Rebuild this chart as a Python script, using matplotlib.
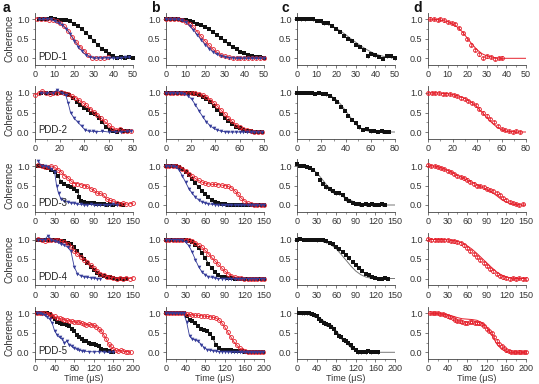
import numpy as np
import matplotlib.pyplot as plt
from matplotlib.ticker import MultipleLocator

plt.rcParams['font.family'] = ['Liberation Sans', 'DejaVu Sans']

# ---- row 1 (PDD-1), 0-50 us ----
a1_kt = [2, 4, 6, 8, 10, 12, 14, 16, 18, 20, 22, 24, 26, 28, 30, 32, 34, 36, 38, 40, 42, 44, 46, 48, 50]
a1_ky = [1.0, 1.0, 1.02, 1.03, 1.0, 0.98, 0.98, 0.97, 0.95, 0.88, 0.82, 0.75, 0.65, 0.55, 0.45, 0.35, 0.25, 0.18, 0.1, 0.05, 0.02, 0.03, 0.02, 0.03, 0.0]
a1_rt = [1, 3, 5, 7, 9, 11, 13, 15, 17, 19, 21, 23, 25, 27, 29, 31, 33, 35, 37]
a1_ry = [1.02, 1.0, 1.0, 0.98, 0.97, 0.95, 0.9, 0.82, 0.7, 0.55, 0.42, 0.3, 0.2, 0.08, 0.02, 0.0, 0.02, 0.0, 0.03]
a1_bt = [2, 4, 6, 8, 10, 12, 14, 16, 18, 20, 22, 24, 26, 28, 30, 32, 34, 36, 38, 40, 42, 44, 46, 48]
a1_by = [1.0, 1.0, 1.02, 1.0, 0.95, 0.9, 0.85, 0.75, 0.62, 0.45, 0.3, 0.18, 0.08, 0.03, 0.0, 0.01, 0.0, 0.02, 0.0, 0.01, 0.0, 0.02, 0.03, 0.03]

b1_t = np.arange(0, 51, 2)
b1_k = [1, 1, 1, 1, 0.99, 0.97, 0.95, 0.92, 0.89, 0.85, 0.8, 0.74, 0.67, 0.6, 0.52, 0.44, 0.36, 0.29, 0.23, 0.17, 0.13, 0.09, 0.06, 0.04, 0.03, 0.02]
b1_r = [1, 1, 1, 1, 0.98, 0.94, 0.88, 0.79, 0.68, 0.56, 0.44, 0.33, 0.23, 0.15, 0.09, 0.05, 0.03, 0.02, 0.01, 0, 0, 0, 0, 0, 0, 0]
b1_b = [1, 1, 1, 1, 0.97, 0.92, 0.84, 0.73, 0.6, 0.47, 0.35, 0.25, 0.16, 0.1, 0.06, 0.03, 0.02, 0.01, 0, 0, 0, 0, 0, 0, 0, 0]

c1_t = np.arange(0, 51, 2)
c1_k = [1.0, 1.0, 1.0, 1.02, 1.0, 0.96, 0.95, 0.9, 0.9, 0.83, 0.75, 0.68, 0.57, 0.5, 0.45, 0.35, 0.3, 0.22, 0.05, 0.12, 0.08, 0.03, -0.02, 0.05, 0.05, 0.0]
c1_ft = np.arange(0, 50.1, 2.5)
c1_f = [1.0, 1.0, 0.99, 0.98, 0.96, 0.93, 0.89, 0.84, 0.77, 0.69, 0.6, 0.5, 0.41, 0.32, 0.24, 0.17, 0.11, 0.07, 0.04, 0.02, 0.01]

d1_t = [1, 3, 5, 6, 8, 10, 12, 14, 16, 18, 20, 22, 24, 26, 28, 30, 32, 34, 36, 38]
d1_r = [1.02, 1.0, 0.98, 1.0, 0.97, 0.93, 0.9, 0.87, 0.78, 0.65, 0.5, 0.35, 0.22, 0.1, 0.0, 0.05, 0.03, -0.02, 0.0, 0.02]
d1_ft = np.arange(0, 50.1, 2.5)
d1_f = [1.0, 1.0, 0.99, 0.97, 0.94, 0.88, 0.8, 0.68, 0.52, 0.36, 0.22, 0.12, 0.06, 0.03, 0.01, 0, 0, 0, 0, 0, 0]

# ---- row 2 (PDD-2), 0-80 us ----
a2_kt = [5, 9, 13, 17, 21, 25, 28, 31, 34, 37, 40, 43, 46, 49, 52, 55, 58, 61, 64, 67, 70, 73, 76]
a2_ky = [1.0, 1.0, 1.0, 1.0, 1.0, 0.98, 0.95, 0.88, 0.78, 0.7, 0.62, 0.57, 0.5, 0.45, 0.35, 0.25, 0.12, 0.05, 0.02, 0.0, 0.05, 0.02, 0.02]
a2_rt = [0, 3, 6, 9, 12, 15, 18, 21, 24, 27, 30, 33, 36, 39, 42, 45, 48, 51, 54, 57, 60, 63, 66, 69, 72, 75, 78]
a2_ry = [0.95, 1.0, 1.05, 1.0, 0.98, 1.0, 1.0, 1.02, 1.0, 0.97, 0.92, 0.88, 0.82, 0.75, 0.68, 0.6, 0.52, 0.44, 0.35, 0.27, 0.18, 0.1, 0.05, 0.07, 0.03, 0.03, 0.02]
a2_bt = [5, 10, 15, 18, 22, 25, 27, 29, 32, 35, 38, 41, 44, 47, 50, 55, 60, 65, 70, 75, 78]
a2_by = [1.0, 1.0, 1.0, 1.08, 1.0, 0.95, 0.75, 0.5, 0.35, 0.25, 0.15, 0.05, 0.02, 0.02, 0.01, 0.02, 0.0, 0.01, 0.0, 0.02, 0.02]

b2_t = np.arange(0, 79, 3)
b2_k = [1, 1, 1, 1, 1, 1, 1, 1, 0.98, 0.95, 0.9, 0.84, 0.76, 0.67, 0.57, 0.47, 0.37, 0.28, 0.2, 0.14, 0.09, 0.05, 0.03, 0.02, 0.01, 0, 0]
b2_r = [1, 1, 1, 1, 1, 1, 1, 1, 1, 0.98, 0.95, 0.9, 0.83, 0.75, 0.66, 0.56, 0.46, 0.36, 0.27, 0.19, 0.12, 0.07, 0.04, 0.02, 0.01, 0, 0]
b2_b = [1, 1, 1, 1, 1, 0.98, 0.93, 0.84, 0.7, 0.54, 0.39, 0.26, 0.16, 0.09, 0.05, 0.02, 0.01, 0, 0, 0, 0, 0, 0, 0, 0, 0, 0]

c2_t = np.arange(0, 76, 3)
c2_k = [1.0, 1.0, 1.0, 1.0, 1.0, 0.98, 1.0, 0.98, 0.97, 0.93, 0.85, 0.78, 0.65, 0.55, 0.42, 0.32, 0.22, 0.12, 0.05, 0.08, 0.02, 0.03, 0.0, 0.02, 0.0, 0.01]
c2_ft = np.arange(0, 80.1, 4)
c2_f = [1, 1, 1, 1, 1, 0.99, 0.97, 0.92, 0.83, 0.7, 0.53, 0.36, 0.21, 0.1, 0.04, 0.01, 0, 0, 0, 0, 0]

d2_t = np.arange(0, 76, 3)
d2_r = [1.0, 1.0, 1.0, 1.0, 0.98, 0.98, 0.97, 0.95, 0.92, 0.88, 0.85, 0.8, 0.75, 0.68, 0.6, 0.5, 0.42, 0.33, 0.25, 0.15, 0.08, 0.05, 0.02, 0.0, 0.02, 0.0]
d2_ft = np.arange(0, 80.1, 4)
d2_f = [1, 1, 1, 0.99, 0.98, 0.96, 0.93, 0.89, 0.83, 0.75, 0.64, 0.51, 0.37, 0.24, 0.13, 0.06, 0.02, 0.01, 0, 0, 0]

# ---- row 3 (PDD-3), 0-150 us ----
a3_kt = [5, 10, 15, 20, 25, 30, 35, 40, 45, 50, 55, 60, 65, 68, 70, 75, 80, 85, 90, 95, 100, 105, 110, 115, 120, 125, 130, 135]
a3_ky = [1.0, 1.0, 0.98, 0.95, 0.9, 0.85, 0.75, 0.6, 0.55, 0.5, 0.45, 0.4, 0.35, 0.2, 0.1, 0.07, 0.05, 0.06, 0.05, 0.03, 0.02, 0.03, 0.0, 0.02, 0.0, 0.02, 0.02, 0.01]
a3_rt = [5, 10, 15, 20, 25, 30, 35, 40, 45, 50, 55, 60, 65, 70, 75, 80, 85, 90, 95, 100, 105, 110, 115, 120, 125, 130, 135, 140, 145, 150]
a3_ry = [1.02, 1.0, 0.97, 0.98, 1.0, 0.97, 0.9, 0.85, 0.75, 0.7, 0.62, 0.55, 0.55, 0.52, 0.5, 0.48, 0.42, 0.38, 0.3, 0.3, 0.25, 0.15, 0.12, 0.1, 0.05, 0.02, 0.05, 0.02, 0.03, 0.05]
a3_bt = [5, 10, 15, 20, 25, 30, 33, 36, 40, 45, 50, 55, 60, 65, 70, 75, 80, 85, 90, 95, 100, 105, 110, 115, 120, 125]
a3_by = [1.12, 1.0, 1.0, 0.97, 0.92, 0.85, 0.5, 0.3, 0.15, 0.1, 0.08, 0.05, 0.05, 0.02, 0.02, 0.0, 0.0, 0.02, 0.0, 0.01, 0.0, 0.01, 0.0, 0.01, 0.02, 0.0]

b3_t = np.arange(0, 151, 5)
b3_k = [1, 1, 1, 1, 0.98, 0.92, 0.85, 0.76, 0.66, 0.56, 0.46, 0.37, 0.28, 0.2, 0.13, 0.08, 0.05, 0.03, 0.02, 0.01, 0, 0, 0, 0, 0, 0, 0, 0, 0, 0, 0]
b3_r = [1, 1, 1, 1, 0.98, 0.93, 0.87, 0.8, 0.74, 0.68, 0.63, 0.59, 0.56, 0.54, 0.53, 0.53, 0.52, 0.51, 0.5, 0.48, 0.44, 0.37, 0.28, 0.18, 0.1, 0.05, 0.02, 0.01, 0, 0, 0]
b3_b = [1, 1, 1, 0.98, 0.9, 0.75, 0.58, 0.42, 0.3, 0.2, 0.13, 0.08, 0.05, 0.03, 0.02, 0.01, 0, 0, 0, 0, 0, 0, 0, 0, 0, 0, 0, 0, 0, 0, 0]

c3_t = np.arange(0, 136, 5)
c3_k = [1.05, 1.0, 1.0, 0.98, 0.95, 0.9, 0.8, 0.65, 0.55, 0.45, 0.4, 0.35, 0.3, 0.3, 0.25, 0.15, 0.1, 0.05, 0.03, 0.02, 0.0, 0.02, 0.0, 0.02, 0.0, 0.01, 0.02, 0.0]
c3_ft = np.arange(0, 150.1, 7.5)
c3_f = [1, 1, 0.98, 0.93, 0.83, 0.68, 0.52, 0.4, 0.32, 0.26, 0.19, 0.12, 0.06, 0.03, 0.01, 0, 0, 0, 0, 0, 0]

d3_t = np.arange(0, 146, 5)
d3_r = [1.02, 1.0, 1.0, 0.98, 0.95, 0.92, 0.88, 0.85, 0.8, 0.75, 0.72, 0.68, 0.65, 0.6, 0.55, 0.5, 0.48, 0.45, 0.42, 0.38, 0.35, 0.3, 0.25, 0.18, 0.12, 0.08, 0.05, 0.02, 0.0, 0.02]
d3_ft = np.arange(0, 150.1, 7.5)
d3_f = [1, 1, 0.98, 0.94, 0.89, 0.83, 0.76, 0.7, 0.64, 0.58, 0.52, 0.46, 0.4, 0.33, 0.24, 0.14, 0.07, 0.03, 0.01, 0, 0]

# ---- row 4 (PDD-4), 0-150 us ----
a4_kt = [5, 10, 15, 20, 25, 30, 35, 40, 45, 50, 55, 60, 65, 70, 75, 80, 85, 90, 95, 100, 105, 110, 115, 120, 125, 130, 135, 140]
a4_ky = [1.0, 1.0, 1.0, 1.0, 1.0, 1.0, 0.98, 0.97, 0.95, 0.92, 0.88, 0.8, 0.7, 0.6, 0.5, 0.4, 0.3, 0.22, 0.15, 0.1, 0.07, 0.05, 0.03, 0.02, 0.0, -0.02, 0.0, 0.0]
a4_rt = [5, 10, 15, 20, 25, 30, 35, 40, 45, 50, 55, 60, 65, 70, 75, 80, 85, 90, 95, 100, 105, 110, 115, 120, 125, 130, 135, 140, 145, 150]
a4_ry = [1.02, 0.98, 0.97, 1.0, 1.0, 0.98, 1.0, 0.95, 0.93, 0.88, 0.8, 0.7, 0.62, 0.55, 0.48, 0.42, 0.35, 0.28, 0.2, 0.12, 0.08, 0.05, 0.03, 0.02, 0.0, 0.02, 0.0, 0.02, 0.0, 0.02]
a4_bt = [5, 10, 15, 20, 25, 30, 35, 40, 45, 50, 55, 60, 65, 70, 75, 80, 85, 90, 95, 100]
a4_by = [1.0, 1.0, 1.0, 1.1, 1.0, 0.95, 0.93, 0.88, 0.85, 0.8, 0.7, 0.3, 0.12, 0.07, 0.05, 0.03, 0.02, 0.01, 0.0, 0.0]

b4_t = np.arange(0, 151, 5)
b4_k = [1, 1, 1, 1, 1, 1, 0.99, 0.97, 0.93, 0.87, 0.78, 0.66, 0.52, 0.38, 0.26, 0.16, 0.09, 0.05, 0.03, 0.02, 0.01, 0, 0, 0, 0, 0, 0, 0, 0, 0, 0]
b4_r = [1, 1, 1, 1, 1, 1, 1, 0.98, 0.96, 0.92, 0.87, 0.8, 0.72, 0.63, 0.54, 0.45, 0.36, 0.27, 0.19, 0.12, 0.07, 0.04, 0.02, 0.01, 0, 0, 0, 0, 0, 0, 0]
b4_b = [1, 1, 1, 1, 1, 0.98, 0.93, 0.84, 0.68, 0.48, 0.3, 0.17, 0.09, 0.05, 0.03, 0.01, 0, 0, 0, 0, 0, 0, 0, 0, 0, 0, 0, 0, 0, 0, 0]

c4_t = np.arange(0, 141, 5)
c4_k = [1.0, 1.02, 1.0, 1.0, 1.0, 1.0, 0.98, 1.0, 0.98, 0.95, 0.92, 0.88, 0.82, 0.75, 0.68, 0.6, 0.52, 0.42, 0.35, 0.28, 0.2, 0.12, 0.08, 0.05, 0.02, 0.0, 0.0, 0.02, 0.0]
c4_ft = np.arange(0, 150.1, 7.5)
c4_f = [1, 1, 1, 1, 0.99, 0.97, 0.93, 0.86, 0.76, 0.62, 0.47, 0.32, 0.19, 0.1, 0.04, 0.01, 0, 0, 0, 0, 0]

d4_t = np.arange(0, 151, 5)
d4_r = [1.02, 1.0, 1.0, 1.0, 1.0, 0.98, 0.98, 0.97, 0.95, 0.93, 0.9, 0.85, 0.78, 0.7, 0.62, 0.55, 0.47, 0.4, 0.32, 0.25, 0.18, 0.12, 0.07, 0.03, 0.02, 0.0, 0.02, 0.0, 0.01, 0.0, 0.0]
d4_ft = np.arange(0, 150.1, 7.5)
d4_f = [1, 1, 1, 1, 0.99, 0.98, 0.95, 0.91, 0.84, 0.75, 0.64, 0.52, 0.4, 0.28, 0.17, 0.09, 0.04, 0.01, 0, 0, 0]

# ---- row 5 (PDD-5), 0-200 us ----
a5_kt = [5, 10, 15, 20, 25, 30, 35, 40, 45, 50, 55, 60, 65, 70, 75, 80, 85, 90, 95, 100, 105, 110, 115, 120, 125, 130, 135, 140, 145, 150, 155, 160]
a5_ky = [1.0, 1.0, 1.0, 1.0, 1.0, 0.98, 0.9, 0.85, 0.78, 0.75, 0.72, 0.72, 0.7, 0.68, 0.6, 0.55, 0.45, 0.4, 0.35, 0.3, 0.28, 0.25, 0.22, 0.22, 0.2, 0.15, 0.08, 0.05, 0.05, 0.03, 0.02, 0.01]
a5_rt = [5, 10, 15, 20, 25, 30, 35, 40, 45, 50, 55, 60, 65, 70, 75, 80, 85, 90, 95, 100, 105, 110, 115, 120, 125, 130, 135, 140, 145, 150, 155, 160, 165, 170, 175, 180, 185, 190, 195]
a5_ry = [1.02, 1.02, 1.0, 1.0, 0.98, 0.97, 0.93, 0.92, 0.88, 0.87, 0.85, 0.83, 0.82, 0.8, 0.8, 0.78, 0.77, 0.78, 0.75, 0.72, 0.7, 0.72, 0.7, 0.7, 0.65, 0.6, 0.55, 0.45, 0.35, 0.22, 0.15, 0.08, 0.05, 0.03, 0.05, 0.03, 0.02, 0.02, 0.0]
a5_bt = [5, 10, 15, 20, 25, 30, 35, 40, 45, 50, 55, 60, 65, 70, 75, 80, 85, 90, 95, 100, 110, 120, 130, 140, 150, 160]
a5_by = [1.0, 1.0, 0.98, 0.95, 0.9, 0.85, 0.75, 0.55, 0.45, 0.38, 0.35, 0.25, 0.28, 0.2, 0.15, 0.1, 0.08, 0.05, 0.04, 0.03, 0.02, 0.01, 0.02, 0.01, 0.0, 0.01]

b5_t = np.arange(0, 201, 6)
b5_k = [1, 1, 1, 1, 1, 1, 1, 0.93, 0.83, 0.79, 0.76, 0.68, 0.61, 0.58, 0.54, 0.48, 0.36, 0.18, 0.1, 0.07, 0.06, 0.05, 0.05, 0.04, 0.04, 0.03, 0.03, 0.02, 0.02, 0.01, 0.01, 0.01, 0.01, 0.0]
b5_r = [1, 1, 1, 1, 1, 1, 1, 0.98, 0.97, 0.96, 0.95, 0.95, 0.94, 0.93, 0.92, 0.91, 0.9, 0.88, 0.83, 0.75, 0.65, 0.52, 0.4, 0.28, 0.19, 0.11, 0.06, 0.03, 0.02, 0.01, 0, 0, 0, 0]
b5_b = [1, 1, 1, 1, 1, 1, 1, 0.78, 0.42, 0.34, 0.31, 0.28, 0.2, 0.12, 0.07, 0.05, 0.04, 0.03, 0.02, 0.02, 0.02, 0.01, 0.01, 0.01, 0.01, 0.01, 0, 0, 0, 0, 0, 0, 0, 0]

c5_t = np.arange(5, 166, 5)
c5_k = [1.02, 1.0, 1.0, 1.0, 1.0, 0.98, 0.95, 0.92, 0.85, 0.8, 0.75, 0.72, 0.7, 0.65, 0.6, 0.5, 0.42, 0.38, 0.32, 0.28, 0.25, 0.2, 0.12, 0.05, 0.0, 0.0, 0.02, 0.0, 0.03, 0.0, 0.02, 0.02, 0.0]
c5_ft = np.arange(0, 200.1, 10)
c5_f = [1, 1, 1, 0.99, 0.93, 0.85, 0.75, 0.7, 0.55, 0.4, 0.25, 0.12, 0.04, 0.0, 0, 0, 0, 0, 0, 0, 0]

d5_t = np.arange(5, 201, 5)
d5_r = [1.02, 1.0, 1.0, 1.0, 0.99, 0.98, 0.95, 0.92, 0.9, 0.87, 0.84, 0.8, 0.79, 0.78, 0.76, 0.75, 0.77, 0.78, 0.76, 0.75, 0.74, 0.72, 0.68, 0.6, 0.55, 0.5, 0.4, 0.3, 0.22, 0.15, 0.1, 0.05, 0.03, 0.02, 0.0, 0.01, 0.02, 0.0, 0.01, 0.0]
d5_ft = np.arange(0, 200.1, 10)
d5_f = [1, 1, 0.99, 0.98, 0.96, 0.93, 0.89, 0.86, 0.85, 0.84, 0.82, 0.76, 0.65, 0.45, 0.22, 0.08, 0.02, 0, 0, 0, 0]

KC = '#111111'
RC = '#e5202b'
BC = '#353c99'
GC = '#777777'

xmax = [50, 80, 150, 150, 200]
xmaj = [10, 20, 30, 30, 40]
zero_px = [58.3, 132, 205, 278.5, 352.3]
col_px = [35, 166, 297, 428]
letter_px = [3, 151, 282, 413]
W, H = 539, 384
unit = 39.0


def sq(ax, t, y, line=True):
    ax.plot(t, y, '-' if line else 'none', color=KC, lw=0.6, marker='s', ms=2.7, mew=0, clip_on=False, zorder=3)


def circ(ax, t, y, line=True):
    ax.plot(t, y, '-' if line else 'none', color=RC, lw=0.6, marker='o', ms=2.8, mfc='none', mew=0.6, clip_on=False, zorder=4)


def tri(ax, t, y):
    ax.plot(t, y, '-', color=BC, lw=0.6, marker='v', ms=2.6, mew=0, clip_on=False, zorder=5)


fig = plt.figure(figsize=(W / 100, H / 100), dpi=100)
axes = []
for r in range(5):
    row = []
    for c in range(4):
        top = zero_px[r] - 1.17 * unit
        bot = zero_px[r] + 0.17 * unit
        ax = fig.add_axes([col_px[c] / W, 1 - bot / H, 98 / W, (bot - top) / H])
        ax.set_xlim(0, xmax[r])
        ax.set_ylim(-0.17, 1.17)
        for s in ['top', 'right']:
            ax.spines[s].set_visible(False)
        for s in ['left', 'bottom']:
            ax.spines[s].set_linewidth(0.6)
            ax.spines[s].set_color('#444444')
        ax.xaxis.set_major_locator(MultipleLocator(xmaj[r]))
        ax.xaxis.set_minor_locator(MultipleLocator(xmaj[r] / 2))
        ax.yaxis.set_minor_locator(MultipleLocator(0.25))
        ax.set_yticks([0, 0.5, 1.0])
        ax.set_yticklabels(['0.0', '0.5', '1.0'])
        ax.tick_params(which='major', direction='out', length=2.5, width=0.5, labelsize=6.5, pad=1.5,
                       colors='#444444', labelcolor='#333333')
        ax.tick_params(which='minor', direction='out', length=1.5, width=0.4, colors='#444444')
        row.append(ax)
    axes.append(row)

# column a: measured decays
sq(axes[0][0], a1_kt, a1_ky); circ(axes[0][0], a1_rt, a1_ry); tri(axes[0][0], a1_bt, a1_by)
sq(axes[1][0], a2_kt, a2_ky); circ(axes[1][0], a2_rt, a2_ry); tri(axes[1][0], a2_bt, a2_by)
sq(axes[2][0], a3_kt, a3_ky); circ(axes[2][0], a3_rt, a3_ry); tri(axes[2][0], a3_bt, a3_by)
sq(axes[3][0], a4_kt, a4_ky); circ(axes[3][0], a4_rt, a4_ry); tri(axes[3][0], a4_bt, a4_by)
sq(axes[4][0], a5_kt, a5_ky); circ(axes[4][0], a5_rt, a5_ry); tri(axes[4][0], a5_bt, a5_by)

# column b: simulation
for r, (t, k, rr, b) in enumerate([(b1_t, b1_k, b1_r, b1_b), (b2_t, b2_k, b2_r, b2_b), (b3_t, b3_k, b3_r, b3_b),
                                   (b4_t, b4_k, b4_r, b4_b), (b5_t, b5_k, b5_r, b5_b)]):
    sq(axes[r][1], t, k); circ(axes[r][1], t, rr); tri(axes[r][1], t, b)

# column c: black data + grey fit
for r, (t, k, ft, f) in enumerate([(c1_t, c1_k, c1_ft, c1_f), (c2_t, c2_k, c2_ft, c2_f), (c3_t, c3_k, c3_ft, c3_f),
                                   (c4_t, c4_k, c4_ft, c4_f), (c5_t, c5_k, c5_ft, c5_f)]):
    ax = axes[r][2]
    ax.plot(ft, f, color=GC, lw=0.7, zorder=2)
    ax.errorbar(t, k, yerr=0.035, fmt='s', color=KC, ms=2.7, mew=0, elinewidth=0.5, capsize=1.0,
                capthick=0.5, clip_on=False, zorder=3)

# column d: red data + red fit
for r, (t, rr, ft, f) in enumerate([(d1_t, d1_r, d1_ft, d1_f), (d2_t, d2_r, d2_ft, d2_f), (d3_t, d3_r, d3_ft, d3_f),
                                    (d4_t, d4_r, d4_ft, d4_f), (d5_t, d5_r, d5_ft, d5_f)]):
    ax = axes[r][3]
    ax.plot(ft, f, color=RC, lw=0.7, zorder=2)
    ax.errorbar(t, rr, yerr=0.03, fmt='o', color=RC, ms=2.8, mfc='none', mew=0.6, elinewidth=0.5,
                capsize=0.8, capthick=0.5, clip_on=False, zorder=3)

for r in range(5):
    axes[r][0].set_ylabel('Coherence', fontsize=7, color='#333333', labelpad=2)
    axes[r][0].text(0.03, 0.1, 'PDD-%d' % (r + 1), transform=axes[r][0].transAxes, fontsize=7,
                    color='#222222', zorder=6)
for c in range(4):
    axes[4][c].set_xlabel('Time (\u03bcS)', fontsize=6.5, color='#333333', labelpad=0.5)

for c, lab in enumerate('abcd'):
    fig.text(letter_px[c] / W, 1 - 12 / H, lab, fontsize=10, fontweight='bold', color='#111111')

fig.savefig('out.png', dpi=100)
